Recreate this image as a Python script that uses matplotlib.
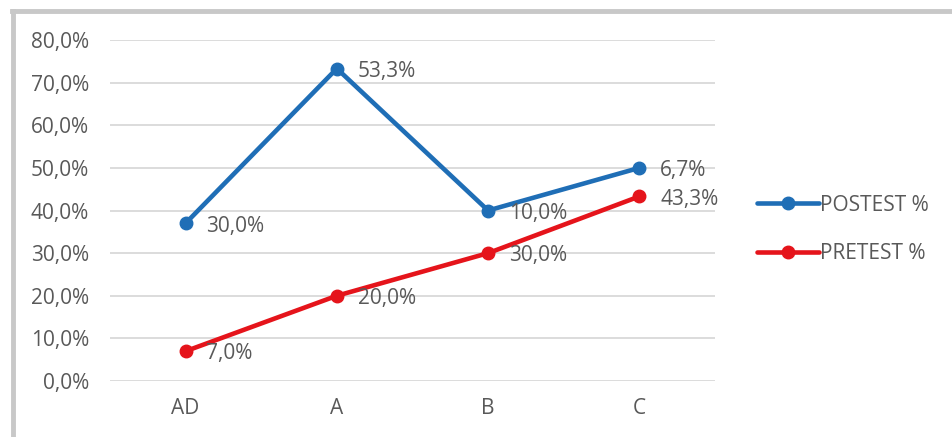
import matplotlib.pyplot as plt
from matplotlib.lines import Line2D
import numpy as np

categories = ["AD", "A", "B", "C"]
pretest = [7.0, 20.0, 30.0, 43.3]
postest = [30.0, 53.3, 10.0, 6.7]
y_ticks = [0, 10, 20, 30, 40, 50, 60, 70, 80]

blue = "#1F6EB6"
red = "#E5141B"
gray_txt = "#595959"
fs = 15

plt.rcParams["font.family"] = ["Open Sans", "DejaVu Sans"]

fig = plt.figure(figsize=(9.52, 4.37), dpi=100)
ax = fig.add_axes([0.1155, 0.1281, 0.6355, 0.7804])

x = np.arange(len(categories))
# posttest is drawn stacked on top of pretest, labelled with its own value
post_stack = np.array(pretest) + np.array(postest)

ax.plot(x, post_stack, color=blue, lw=3.3, marker="o", ms=9, label="POSTEST %",
        solid_capstyle="round", zorder=3)
ax.plot(x, pretest, color=red, lw=3.3, marker="o", ms=9, label="PRETEST %",
        solid_capstyle="round", zorder=3)

def fmt(v):
    return f"{v:.1f}%".replace(".", ",")

for xi, yv, lab in zip(x, post_stack, postest):
    ax.annotate(fmt(lab), (xi, yv), xytext=(15, -2), textcoords="offset points",
                ha="left", va="center", fontsize=fs, color=gray_txt, zorder=4)
for xi, yv in zip(x, pretest):
    ax.annotate(fmt(yv), (xi, yv), xytext=(15, -2), textcoords="offset points",
                ha="left", va="center", fontsize=fs, color=gray_txt, zorder=4)

ax.set_xlim(-0.5, len(categories) - 0.5)
ax.set_ylim(0, 80)
ax.set_yticks(y_ticks)
ax.set_yticklabels([fmt(v) for v in y_ticks])
ax.set_xticks(x)
ax.set_xticklabels(categories)
ax.tick_params(length=0, labelsize=fs, labelcolor=gray_txt)
ax.tick_params(axis="y", pad=15)
ax.tick_params(axis="x", pad=12)
ax.grid(axis="y", color="#D9D9D9", lw=1.3)
ax.set_axisbelow(True)
for s in ax.spines.values():
    s.set_visible(False)

leg = ax.legend(loc="center left", bbox_to_anchor=(1.055, 0.445), frameon=False,
                fontsize=fs, labelspacing=1.3, handlelength=3.0,
                handletextpad=0.05, borderaxespad=0)
for t in leg.get_texts():
    t.set_color(gray_txt)

# grey frame on top and left
fig.add_artist(Line2D([12 / 952, 1], [1 - 11 / 437, 1 - 11 / 437],
                      transform=fig.transFigure, color="#C8C8C8", lw=3.5))
fig.add_artist(Line2D([13 / 952, 13 / 952], [0, 1 - 11 / 437],
                      transform=fig.transFigure, color="#C8C8C8", lw=3.5))

fig.savefig("out.png", dpi=100)
